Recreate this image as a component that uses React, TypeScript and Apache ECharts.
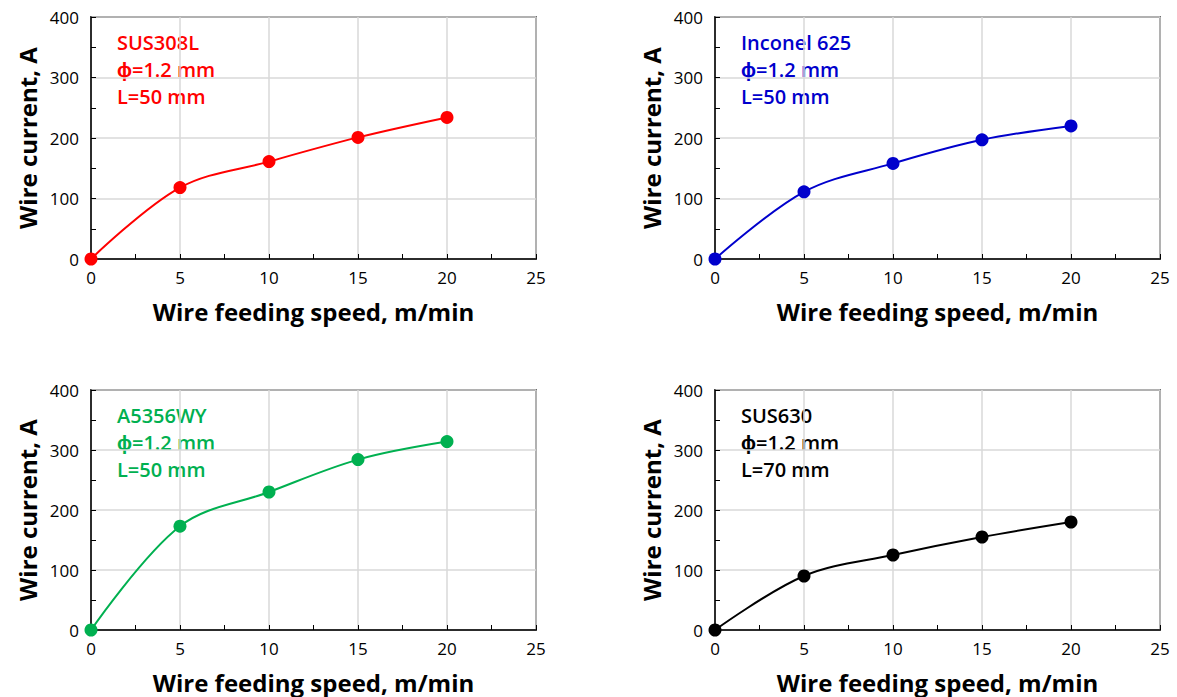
import React, { useEffect, useRef } from "react";
import * as echarts from "echarts";

const speeds = [0, 5, 10, 15, 20];
const sus308l = [0, 118, 161, 201, 234];
const inconel625 = [0, 111, 158, 197, 220];
const a5356wy = [0, 173, 230, 284, 314];
const sus630 = [0, 90, 125, 155, 180];

const panelLabels = [
  ["SUS308L", "ϕ=1.2 mm", "L=50 mm"],
  ["Inconel 625", "ϕ=1.2 mm", "L=50 mm"],
  ["A5356WY", "ϕ=1.2 mm", "L=50 mm"],
  ["SUS630", "ϕ=1.2 mm", "L=70 mm"],
];
const panelColors = ["#ff0000", "#0000cc", "#00b050", "#000000"];
const panelValues = [sus308l, inconel625, a5356wy, sus630];

const xTitle = "Wire feeding speed, m/min";
const yTitle = "Wire current, A";

const grids = [
  { left: 91, top: 17, width: 445, height: 242 },
  { left: 715, top: 17, width: 445, height: 242 },
  { left: 91, top: 390, width: 445, height: 240 },
  { left: 715, top: 390, width: 445, height: 240 },
];

const FONT = "'Open Sans', 'Liberation Sans', Arial, sans-serif";

export default function App() {
  const ref = useRef<HTMLDivElement>(null);
  useEffect(() => {
    if (!ref.current) return;
    const chart = echarts.init(ref.current, null, { renderer: "svg" });
    const option: any = {
      animation: false,
      backgroundColor: "#ffffff",
      grid: grids.map((g) => ({
        ...g,
        show: true,
        borderColor: "#000",
        borderWidth: 1.5,
        backgroundColor: "transparent",
      })),
      xAxis: grids.map((_, i) => ({
        type: "value",
        gridIndex: i,
        min: 0,
        max: 25,
        interval: 5,
        name: xTitle,
        nameLocation: "middle",
        nameGap: 40,
        nameTextStyle: { fontSize: 24, fontWeight: "bold", color: "#000", fontFamily: FONT },
        axisLine: { show: true, lineStyle: { color: "#000", width: 1.5 } },
        axisTick: { show: true, inside: true, length: 5, lineStyle: { color: "#000" } },
        minorTick: { show: true, splitNumber: 2, length: 5, lineStyle: { color: "#000", width: 1 } },
        axisLabel: { fontSize: 17, color: "#000", margin: 10, fontFamily: FONT },
        splitLine: { show: true, lineStyle: { color: "#d9d9d9", width: 1.5 } },
      })),
      yAxis: grids.map((_, i) => ({
        type: "value",
        gridIndex: i,
        min: 0,
        max: 400,
        interval: 100,
        name: yTitle,
        nameLocation: "middle",
        nameGap: 52,
        nameTextStyle: { fontSize: 24, fontWeight: "bold", color: "#000", fontFamily: FONT },
        axisLine: { show: true, lineStyle: { color: "#000", width: 1.5 } },
        axisTick: { show: true, inside: true, length: 5, lineStyle: { color: "#000" } },
        minorTick: { show: true, splitNumber: 2, length: 5, lineStyle: { color: "#000", width: 1 } },
        axisLabel: { fontSize: 17, color: "#000", margin: 12, fontFamily: FONT },
        splitLine: { show: true, lineStyle: { color: "#d9d9d9", width: 1.5 } },
      })),
      series: panelValues.map((vals, i) => ({
        type: "line",
        xAxisIndex: i,
        yAxisIndex: i,
        data: speeds.map((s, j) => [s, vals[j]]),
        smooth: 0.35,
        symbol: "circle",
        symbolSize: 13,
        lineStyle: { color: panelColors[i], width: 2 },
        itemStyle: { color: panelColors[i] },
        z: 5,
      })),
      graphic: panelLabels.map((lines, i) => ({
        type: "group",
        left: grids[i].left + 26,
        top: grids[i].top + 15,
        children: lines.map((t, k) => ({
          type: "text",
          x: 0,
          y: k * 27,
          style: {
            text: t,
            fill: panelColors[i],
            fontSize: 20,
            fontWeight: 600,
            fontFamily: FONT,
          },
        })),
      })),
    };
    chart.setOption(option);
    return () => chart.dispose();
  }, []);
  return (
    <div
      ref={ref}
      style={{ position: "fixed", left: 0, top: 0, width: 1177, height: 697 }}
    />
  );
}
